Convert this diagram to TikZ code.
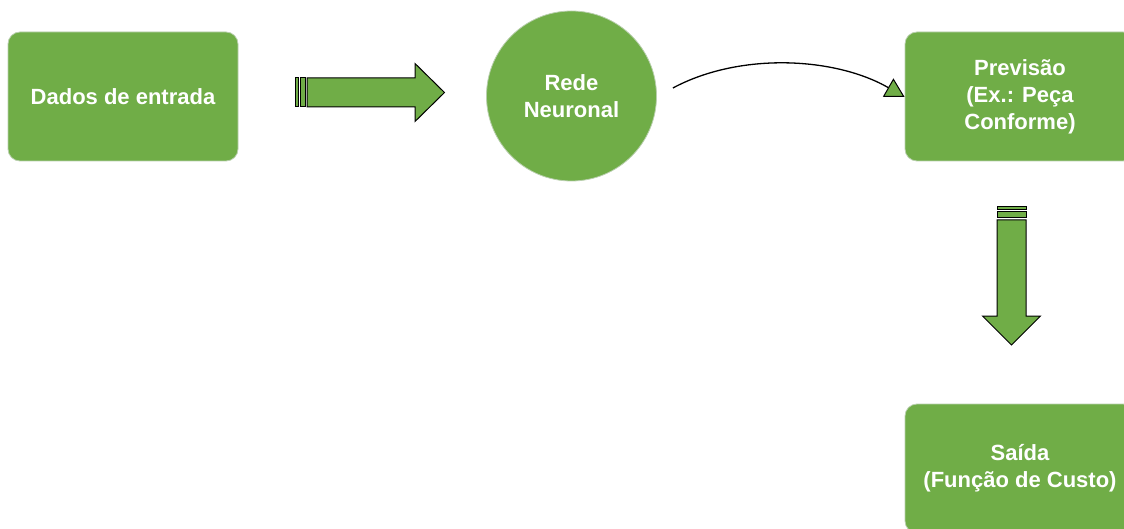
\documentclass[tikz,border=0pt]{standalone}
\usepackage{fontspec}
\setmainfont{Liberation Sans}
\usetikzlibrary{arrows.meta}
\definecolor{grn}{HTML}{70AD47}
\definecolor{edge}{HTML}{B9CFAE}
\begin{document}
\begin{tikzpicture}[x=1pt,y=-1pt,
  box/.style={rectangle, rounded corners=12pt, fill=grn, draw=edge, line width=0.8pt,
    minimum width=230pt, minimum height=129pt, inner sep=0pt,
    text=white, font=\fontsize{22pt}{27pt}\selectfont\bfseries, align=center},
  bubble/.style={circle, fill=grn, draw=edge, line width=0.8pt, minimum size=170pt, inner sep=0pt,
    text=white, font=\fontsize{22pt}{27pt}\selectfont\bfseries, align=center},
  fat/.style={fill=grn, draw=black, line width=1pt, line join=miter},
  link/.style={draw=black, line width=1.3pt,
    -{Triangle[length=19pt, width=21pt, fill=grn, line width=1pt]}}
]
\useasboundingbox (0,0) rectangle (1124,529);

\node[box] (dados) at (123,96.5) {Dados de entrada};
\node[bubble] (rede) at (571.5,96) {Rede\\Neuronal};
\node[box] (prev) at (1020,96.5) {Previsão\\(Ex.: Peça\\Conforme)};
\node[box] (saida) at (1020,468.5) {Saída\\(Função de Custo)};

% striped right arrow
\draw[fat] (295,78) rectangle (298,107);
\draw[fat] (300,78) rectangle (305,107);
\draw[fat] (307,78) -- (415,78) -- (415,63.5) -- (444.5,92.5) -- (415,121.5) -- (415,107) -- (307,107) -- cycle;

% striped down arrow
\draw[fat] (997,207) rectangle (1026,210);
\draw[fat] (997,212) rectangle (1026,218);
\draw[fat] (997,220) -- (997,316) -- (982.5,316) -- (1011.5,345) -- (1040.5,316) -- (1026,316) -- (1026,220) -- cycle;

% curved connector
\coordinate (cstart) at ([xshift=16pt,yshift=8pt]rede.east);
\coordinate (cend) at ([yshift=-0.5pt]prev.west);
\draw[link] (cstart) .. controls (740,52) and (835,57) .. (cend);
\end{tikzpicture}
\end{document}
